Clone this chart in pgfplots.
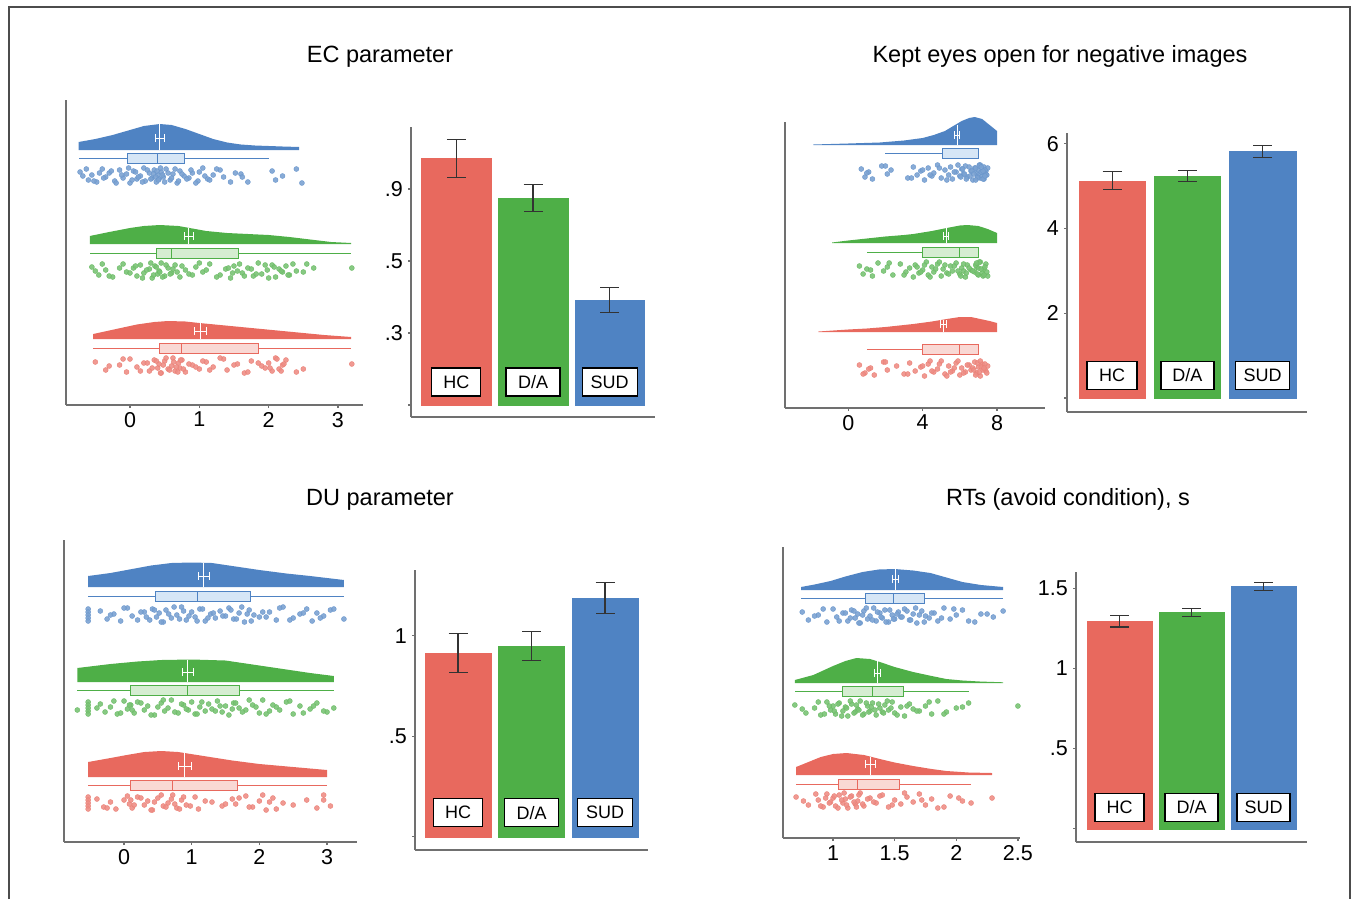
\documentclass[border=0pt]{standalone}
\usepackage{fontspec}
\setmainfont{Liberation Sans}
\usepackage{pgfplots}
\pgfplotsset{compat=1.18}
\usepgfplotslibrary{statistics}
\definecolor{cr}{HTML}{E8695E}
\definecolor{cg}{HTML}{4EAF47}
\definecolor{cb}{HTML}{4F83C3}
\definecolor{crL}{HTML}{F9D8D4}
\definecolor{cgL}{HTML}{D5EDD1}
\definecolor{cbL}{HTML}{D6E6F6}
\definecolor{axg}{HTML}{707070}
\tikzset{lab/.style={draw=black, line width=1.4pt, fill=white, minimum height=28pt, inner sep=0pt,
   font=\fontsize{18}{18}\selectfont}}
\pgfplotsset{
 common/.style={scale only axis, axis x line*=bottom, axis y line*=left,
   axis line style={-, draw=axg, line width=1.4pt},
   x axis line style={-}, y axis line style={-},
   tick align=outside, tick style={draw=axg, line width=1.2pt},
   ticklabel style={font=\fontsize{21.5}{24}\selectfont},
   /pgf/number format/assume math mode=true, clip=false},
 rain/.style={common, ytick=\empty, major tick length=3pt,
   xticklabel style={inner sep=0pt, yshift=-4pt}},
 barax/.style={common, xtick=\empty, major tick length=3pt,
   yticklabel style={inner sep=0pt, xshift=-5pt}},
 dens/.style={draw=none, fill=#1},
 mline/.style={white, line width=1pt},
 merr/.style={white, line width=0.9pt, mark=none, error bars/.cd, x dir=both, x explicit,
   error bar style={white, line width=0.9pt},
   error mark options={white, line width=0.9pt, mark size=4pt, rotate=90}},
 bx/.style={draw=#1, fill=#1L, line width=0.9pt},
 pts/.style={only marks, mark=*, mark size=2.5pt,
   mark options={draw=#1!85!white, fill=#1!75!white, line width=0.4pt, fill opacity=0.9}},
 barst/.style={ybar, bar width=#1, bar shift=0pt},
 bc/.style={fill=#1, draw=#1, line width=0.4pt, error bars/.cd, y dir=both, y explicit,
   error bar style={black!80, line width=1.1pt},
   error mark options={black!80, line width=1.1pt, mark size=9.5pt, rotate=90}},
}
\newcommand{\tfont}{\fontsize{23.5}{28}\selectfont}
\begin{document}
\begin{tikzpicture}
\useasboundingbox (0pt,0pt) rectangle (1356pt,-899pt);
\draw[black!70, line width=1.5pt] (9pt,-899pt) -- (9pt,-7pt) -- (1350pt,-7pt) -- (1350pt,-899pt);
\node[font=\tfont, anchor=base] at (380pt,-63pt) {EC parameter};
\node[font=\tfont, anchor=base] at (1060pt,-63pt) {Kept eyes open for negative images};
\node[font=\tfont, anchor=base] at (380pt,-505pt) {DU parameter};
\node[font=\tfont, anchor=base] at (1068pt,-505pt) {RTs (avoid condition), s};

% ================= R1 =================
\begin{axis}[rain, at={(66pt,-405pt)}, anchor=south west, width=297pt, height=305pt,
  xmin=-0.923, xmax=3.361, ymin=-405, ymax=-100, xtick={0,1,2,3}]
\addplot[dens=cb] coordinates {(-0.74,-150) (-0.74,-142) (-0.5,-139) (-0.25,-135) (0,-130) (0.2,-126) (0.43,-124) (0.6,-125) (0.8,-129) (1.0,-134) (1.2,-139) (1.4,-142.5) (1.6,-144.5) (1.8,-145.5) (2.0,-146) (2.2,-146.5) (2.44,-147) (2.44,-150)};
\addplot[mline] coordinates {(0.43,-150) (0.43,-124)};
\addplot[merr] coordinates {(0.43,-138) +- (0.06,0)};
\addplot[bx=cb, boxplot prepared={lower whisker=-0.74, lower quartile=-0.03, median=0.39, upper quartile=0.78, upper whisker=2.0, draw position=-158, box extend=10, whisker extend=0, draw direction=x}] coordinates {};
\addplot[pts=cb] coordinates {(-0.72,-172) (-0.6,-180) (-0.55,-175) (-0.48,-182) (-0.4,-169) (-0.35,-177) (-0.3,-173) (-0.22,-181) (-0.15,-170) (-0.1,-178) (-0.05,-174) (0.0,-183) (0.05,-171) (0.1,-179) (0.15,-176) (0.2,-168) (0.22,-181) (0.28,-173) (0.32,-178) (0.35,-170) (0.38,-182) (0.4,-175) (0.42,-179) (0.45,-172) (0.48,-177) (0.52,-169) (0.58,-180) (0.62,-174) (0.68,-183) (0.72,-171) (0.78,-176) (0.85,-178) (0.9,-173) (0.98,-181) (1.05,-168) (1.12,-179) (1.2,-175) (1.3,-170) (1.45,-182) (1.6,-174) (1.62,-177) (2.05,-171) (2.1,-180) (2.2,-176) (2.4,-169) (2.48,-183)};
\addplot[pts=cb] coordinates {(-0.68,-176) (-0.63,-169) (-0.52,-181) (-0.44,-173) (-0.38,-178) (-0.27,-171) (-0.2,-183) (-0.12,-175) (-0.02,-168) (0.03,-180) (0.08,-172) (0.12,-177) (0.18,-182) (0.25,-170) (0.3,-179) (0.34,-174) (0.37,-177) (0.39,-171) (0.41,-180) (0.44,-168) (0.47,-175) (0.5,-182) (0.55,-173) (0.6,-178) (0.65,-169) (0.7,-181) (0.75,-174) (0.82,-179) (0.88,-170) (0.95,-183) (1.0,-172) (1.08,-176) (1.15,-180) (1.25,-169) (1.35,-177) (1.52,-173) (1.7,-182)};
\addplot[dens=cg] coordinates {(-0.58,-244) (-0.58,-236) (-0.3,-232) (0,-228) (0.2,-226) (0.43,-225) (0.7,-226) (0.9,-228.5) (1.1,-231) (1.4,-233) (1.7,-234) (2.0,-235) (2.3,-237) (2.6,-239.5) (2.9,-242) (3.19,-243) (3.19,-244)};
\addplot[mline] coordinates {(0.85,-244) (0.85,-228)};
\addplot[merr] coordinates {(0.85,-236) +- (0.07,0)};
\addplot[bx=cg, boxplot prepared={lower whisker=-0.58, lower quartile=0.38, median=0.6, upper quartile=1.56, upper whisker=3.19, draw position=-253, box extend=10, whisker extend=0, draw direction=x}] coordinates {};
\addplot[pts=cg] coordinates {(-0.55,-267) (-0.45,-275) (-0.35,-270) (-0.25,-277) (-0.1,-264) (-0.05,-272) (0.05,-268) (0.1,-276) (0.15,-265) (0.2,-273) (0.28,-269) (0.32,-278) (0.36,-266) (0.4,-274) (0.42,-271) (0.45,-263) (0.5,-276) (0.55,-268) (0.6,-273) (0.65,-265) (0.72,-277) (0.8,-270) (0.85,-274) (0.95,-267) (1.05,-272) (1.15,-264) (1.3,-275) (1.38,-269) (1.45,-278) (1.5,-266) (1.55,-271) (1.62,-273) (1.7,-268) (1.78,-276) (1.85,-263) (1.9,-274) (1.98,-270) (2.05,-265) (2.1,-277) (2.15,-269) (2.2,-272) (2.25,-266) (2.3,-275) (2.4,-271) (2.55,-264) (3.2,-268)};
\addplot[pts=cg] coordinates {(-0.5,-271) (-0.4,-264) (-0.3,-276) (-0.15,-268) (0.0,-273) (0.08,-266) (0.18,-278) (0.24,-270) (0.3,-263) (0.34,-275) (0.38,-267) (0.43,-272) (0.47,-277) (0.52,-265) (0.58,-274) (0.62,-269) (0.68,-272) (0.75,-266) (0.9,-275) (1.0,-263) (1.1,-270) (1.25,-277) (1.42,-268) (1.48,-273) (1.58,-264) (1.65,-276) (1.75,-269) (1.82,-274) (1.95,-265) (2.0,-278) (2.08,-267) (2.18,-271) (2.28,-275) (2.35,-264) (2.5,-272) (2.65,-268)};
\addplot[dens=cr] coordinates {(-0.53,-339) (-0.53,-334) (-0.2,-329) (0.1,-324.5) (0.35,-322) (0.55,-321) (0.8,-321.5) (1.0,-323) (1.3,-325) (1.6,-327) (1.9,-329) (2.2,-331) (2.5,-333) (2.8,-335) (3.19,-337) (3.19,-339)};
\addplot[mline] coordinates {(1.02,-339) (1.02,-323)};
\addplot[merr] coordinates {(1.02,-331) +- (0.087,0)};
\addplot[bx=cr, boxplot prepared={lower whisker=-0.53, lower quartile=0.42, median=0.74, upper quartile=1.86, upper whisker=3.19, draw position=-348, box extend=10, whisker extend=0, draw direction=x}] coordinates {};
\addplot[pts=cr] coordinates {(-0.5,-362) (-0.35,-370) (-0.15,-365) (-0.05,-372) (0.0,-359) (0.1,-367) (0.2,-363) (0.28,-371) (0.35,-360) (0.4,-368) (0.42,-364) (0.45,-373) (0.5,-361) (0.55,-369) (0.6,-366) (0.62,-358) (0.65,-371) (0.7,-363) (0.72,-368) (0.75,-360) (0.8,-372) (0.9,-365) (1.0,-369) (1.1,-362) (1.2,-367) (1.35,-359) (1.4,-370) (1.55,-364) (1.65,-373) (1.75,-361) (1.9,-366) (1.95,-368) (2.0,-363) (2.05,-371) (2.1,-358) (2.15,-369) (2.2,-365) (2.25,-360) (2.4,-372) (3.2,-364)};
\addplot[pts=cr] coordinates {(-0.3,-366) (-0.1,-359) (0.15,-371) (0.25,-363) (0.32,-368) (0.38,-361) (0.44,-373) (0.48,-365) (0.52,-358) (0.57,-370) (0.63,-362) (0.67,-367) (0.69,-372) (0.73,-360) (0.77,-369) (0.85,-364) (0.95,-367) (1.05,-361) (1.15,-370) (1.3,-358) (1.5,-365) (1.7,-372) (1.85,-363) (2.02,-368) (2.12,-359) (2.18,-371) (2.22,-364) (2.5,-369)};
\end{axis}

% ================= B1 =================
\begin{axis}[barax, at={(411pt,-417pt)}, anchor=south west, width=244pt, height=290pt,
  xmin=-0.59, xmax=2.59, ymin=-0.167, ymax=3.86, ytick={0,1,2,3},
  yticklabels={{},{\textnormal{.3}},{\textnormal{.5}},{\textnormal{.9}}}]
\addplot[barst=0.91, bc=cr] coordinates {(0,3.42) +- (0,0.265)};
\addplot[barst=0.91, bc=cg] coordinates {(1,2.875) +- (0,0.185)};
\addplot[barst=0.91, bc=cb] coordinates {(2,1.46) +- (0,0.17)};
\node[lab, minimum width=49pt] at (axis cs:0,0.32) {HC};
\node[lab, minimum width=54pt] at (axis cs:1,0.32) {D/A};
\node[lab, minimum width=55pt] at (axis cs:2,0.32) {SUD};
\end{axis}

% ================= R2 =================
\begin{axis}[rain, at={(785pt,-408pt)}, anchor=south west, width=260pt, height=286pt,
  xmin=-3.40, xmax=10.58, ymin=-408, ymax=-122, xtick={0,4,8}]
\addplot[dens=cb] coordinates {(-1.88,-145) (-1.88,-144.5) (0,-143.5) (1.7,-142.5) (3,-140.5) (4,-138) (4.6,-135) (5.2,-131) (5.65,-126) (6.1,-121) (6.5,-118) (6.8,-117) (7.2,-119) (7.6,-125) (8.0,-131) (8.0,-145)};
\addplot[mline] coordinates {(5.86,-145) (5.86,-124.5)};
\addplot[merr] coordinates {(5.86,-135) +- (0.14,0)};
\addplot[bx=cb, boxplot prepared={lower whisker=2.0, lower quartile=5.05, median=7.0, upper quartile=7.0, upper whisker=7.0, draw position=-153, box extend=10, whisker extend=0, draw direction=x}] coordinates {};
\addplot[pts=cb] coordinates {(0.7,-169) (0.9,-177) (1.1,-172) (1.3,-179) (1.8,-166) (2.1,-174) (2.3,-170) (3.2,-178) (3.5,-167) (3.7,-175) (3.9,-171) (4.1,-180) (4.3,-168) (4.5,-176) (4.6,-173) (4.8,-165) (5.0,-178) (5.2,-170) (5.4,-175) (5.5,-167) (5.6,-179) (5.8,-172) (6.0,-176) (6.1,-169) (6.2,-174) (6.3,-166) (6.4,-177) (6.6,-171) (6.7,-180) (6.8,-168) (6.9,-173) (7.0,-175) (7.0,-170) (7.1,-178) (7.1,-165) (7.2,-176) (7.2,-172) (7.3,-167) (7.3,-179) (7.4,-171) (7.4,-174) (7.5,-168)};
\addplot[pts=cb] coordinates {(1.0,-173) (2.0,-166) (3.4,-178) (4.0,-170) (4.4,-175) (4.9,-168) (5.3,-180) (5.7,-172) (5.9,-165) (6.05,-177) (6.15,-169) (6.25,-174) (6.35,-179) (6.5,-167) (6.55,-176) (6.65,-171) (6.75,-174) (6.85,-168) (6.95,-177) (7.05,-165) (7.15,-172) (7.25,-179) (7.35,-170) (7.45,-175) (7.05,-166) (6.95,-178) (7.25,-171) (7.35,-176) (7.15,-167) (6.85,-180)};
\addplot[dens=cg] coordinates {(-0.87,-243) (-0.87,-242.5) (0,-240.5) (1,-238.5) (2,-236.5) (3,-235) (3.5,-234) (4.5,-231) (5.3,-228) (6.0,-225.5) (6.4,-225) (7.0,-226) (7.5,-229) (8.0,-233) (8.0,-243)};
\addplot[mline] coordinates {(5.27,-243) (5.27,-228.1)};
\addplot[merr] coordinates {(5.27,-236) +- (0.14,0)};
\addplot[bx=cg, boxplot prepared={lower whisker=1, lower quartile=4, median=6, upper quartile=7, upper whisker=7, draw position=-252, box extend=10, whisker extend=0, draw direction=x}] coordinates {};
\addplot[pts=cg] coordinates {(0.6,-266) (0.8,-274) (1.0,-269) (1.3,-276) (1.6,-263) (1.9,-271) (2.1,-267) (2.4,-275) (2.8,-264) (3.1,-272) (3.3,-268) (3.5,-277) (3.6,-265) (3.8,-273) (4.0,-270) (4.2,-262) (4.3,-275) (4.5,-267) (4.6,-272) (4.8,-264) (5.0,-276) (5.1,-269) (5.3,-273) (5.5,-266) (5.6,-271) (5.8,-263) (6.0,-274) (6.1,-268) (6.3,-277) (6.4,-265) (6.6,-270) (6.8,-272) (6.9,-267) (7.0,-275) (7.1,-262) (7.2,-273) (7.3,-269) (7.4,-264) (7.5,-276) (7.0,-268) (6.2,-271) (5.2,-265)};
\addplot[pts=cg] coordinates {(1.2,-270) (2.2,-263) (3.0,-275) (3.7,-267) (3.9,-272) (4.1,-265) (4.4,-277) (4.7,-269) (4.9,-262) (5.4,-274) (5.7,-266) (5.9,-271) (6.05,-276) (6.2,-264) (6.35,-273) (6.5,-268) (6.7,-271) (6.85,-265) (6.95,-274) (7.05,-262) (7.15,-269) (7.25,-276) (7.35,-267) (7.45,-272) (6.9,-263) (7.3,-275)};
\addplot[dens=cr] coordinates {(-1.6,-332) (-1.6,-331.5) (0,-329.5) (1,-328.5) (2,-327) (3.5,-324) (4.5,-321.5) (5.3,-319) (6.0,-317) (6.6,-317) (7.1,-319) (7.6,-321) (8.0,-323) (8.0,-332)};
\addplot[mline] coordinates {(5.1,-332) (5.1,-320.2)};
\addplot[merr] coordinates {(5.1,-324) +- (0.16,0)};
\addplot[bx=cr, boxplot prepared={lower whisker=1, lower quartile=4, median=6, upper quartile=7, upper whisker=7, draw position=-349, box extend=10, whisker extend=0, draw direction=x}] coordinates {};
\addplot[pts=cr] coordinates {(0.6,-365) (0.9,-373) (1.2,-368) (1.4,-375) (1.9,-362) (2.1,-370) (2.6,-366) (3.0,-374) (3.3,-363) (3.6,-371) (3.9,-367) (4.1,-376) (4.3,-364) (4.6,-372) (4.8,-369) (5.0,-361) (5.2,-374) (5.4,-366) (5.6,-371) (5.8,-363) (6.0,-375) (6.1,-368) (6.3,-372) (6.5,-365) (6.6,-370) (6.8,-362) (6.9,-373) (7.0,-367) (7.1,-376) (7.2,-364) (7.3,-369) (7.4,-371) (7.5,-366) (0.8,-374) (4.4,-361) (5.5,-372) (6.7,-368)};
\addplot[pts=cr] coordinates {(1.1,-369) (2.0,-362) (3.2,-374) (4.0,-366) (4.5,-371) (4.9,-364) (5.3,-376) (5.7,-368) (5.9,-361) (6.2,-373) (6.4,-365) (6.75,-370) (6.85,-375) (6.95,-363) (7.05,-372) (7.15,-367) (7.25,-370) (7.35,-364) (7.45,-373) (7.1,-361) (7.3,-368)};
\end{axis}

% ================= B2 =================
\begin{axis}[barax, at={(1067pt,-412pt)}, anchor=south west, width=240pt, height=279pt,
  xmin=-0.6, xmax=2.59, ymin=-0.33, ymax=6.25, ytick={0,2,4,6},
  yticklabels={{},{\textnormal{2}},{\textnormal{4}},{\textnormal{6}}}]
\addplot[barst=0.88, bc=cr] coordinates {(0,5.125) +- (0,0.21)};
\addplot[barst=0.88, bc=cg] coordinates {(1,5.24) +- (0,0.135)};
\addplot[barst=0.88, bc=cb] coordinates {(2,5.81) +- (0,0.135)};
\node[lab, minimum width=50pt] at (axis cs:0,0.53) {HC};
\node[lab, minimum width=53pt] at (axis cs:1,0.53) {D/A};
\node[lab, minimum width=54pt] at (axis cs:2,0.53) {SUD};
\end{axis}

% ================= R3 =================
\begin{axis}[rain, at={(64pt,-842pt)}, anchor=south west, width=293pt, height=302pt,
  xmin=-0.887, xmax=3.443, ymin=-842, ymax=-540, xtick={0,1,2,3}]
\addplot[dens=cb] coordinates {(-0.53,-587) (-0.53,-576) (-0.2,-573) (0.04,-570) (0.4,-565.5) (0.7,-563) (1.0,-562.5) (1.3,-563) (1.6,-566) (2.0,-570) (2.4,-573.5) (2.75,-576) (3.0,-578) (3.25,-580) (3.25,-587)};
\addplot[mline] coordinates {(1.18,-587) (1.18,-562.8)};
\addplot[merr] coordinates {(1.18,-576) +- (0.086,0)};
\addplot[bx=cb, boxplot prepared={lower whisker=-0.53, lower quartile=0.47, median=1.08, upper quartile=1.87, upper whisker=3.25, draw position=-596, box extend=10, whisker extend=0, draw direction=x}] coordinates {};
\addplot[pts=cb] coordinates {(-0.53,-609) (-0.53,-612) (-0.53,-615) (-0.53,-618) (-0.53,-621) (-0.35,-611) (-0.25,-619) (-0.15,-614) (-0.05,-621) (0.05,-608) (0.12,-616) (0.3,-612) (0.38,-620) (0.42,-609) (0.48,-617) (0.52,-613) (0.58,-622) (0.62,-610) (0.7,-618) (0.78,-615) (0.85,-607) (0.92,-620) (1.0,-612) (1.05,-617) (1.12,-609) (1.2,-621) (1.28,-614) (1.35,-618) (1.42,-611) (1.5,-616) (1.55,-608) (1.62,-619) (1.7,-613) (1.78,-622) (1.85,-610) (1.92,-615) (2.0,-617) (2.15,-612) (2.25,-620) (2.35,-607) (2.5,-618) (2.6,-614) (2.7,-609) (2.78,-621) (2.85,-613) (2.95,-616) (3.05,-610) (3.25,-619)};
\addplot[pts=cb] coordinates {(-0.2,-615) (0.0,-608) (0.2,-620) (0.25,-612) (0.33,-617) (0.45,-610) (0.55,-622) (0.66,-614) (0.74,-607) (0.82,-619) (0.88,-611) (0.96,-616) (1.08,-621) (1.16,-609) (1.24,-618) (1.32,-613) (1.46,-616) (1.58,-610) (1.66,-619) (1.74,-607) (1.82,-614) (1.88,-621) (2.05,-612) (2.1,-617) (2.3,-608) (2.45,-620) (2.65,-613) (2.9,-618) (3.1,-609)};
\addplot[dens=cg] coordinates {(-0.69,-682) (-0.69,-668) (-0.2,-664) (0.2,-661.5) (0.55,-660) (1.0,-659.5) (1.5,-660.5) (2.0,-665.5) (2.4,-669.5) (2.75,-673) (3.1,-676) (3.1,-682)};
\addplot[mline] coordinates {(0.94,-682) (0.94,-659.6)};
\addplot[merr] coordinates {(0.94,-672) +- (0.08,0)};
\addplot[bx=cg, boxplot prepared={lower whisker=-0.69, lower quartile=0.09, median=0.93, upper quartile=1.71, upper whisker=3.1, draw position=-690, box extend=10, whisker extend=0, draw direction=x}] coordinates {};
\addplot[pts=cg] coordinates {(-0.69,-710) (-0.53,-702) (-0.53,-705) (-0.53,-708) (-0.53,-711) (-0.53,-714) (-0.35,-704) (-0.28,-712) (-0.2,-707) (-0.1,-714) (0.0,-701) (0.05,-709) (0.1,-705) (0.15,-713) (0.2,-702) (0.3,-710) (0.35,-706) (0.45,-715) (0.55,-703) (0.6,-711) (0.65,-708) (0.7,-700) (0.8,-713) (0.88,-705) (0.95,-710) (1.0,-702) (1.05,-714) (1.12,-707) (1.2,-711) (1.25,-704) (1.3,-709) (1.38,-701) (1.45,-712) (1.5,-706) (1.55,-715) (1.62,-703) (1.7,-708) (1.8,-710) (1.9,-705) (2.0,-713) (2.05,-700) (2.15,-711) (2.25,-707) (2.4,-702) (2.5,-714) (2.6,-706) (2.75,-709) (2.85,-703) (3.0,-712) (3.1,-708)};
\addplot[pts=cg] coordinates {(-0.4,-708) (-0.15,-701) (-0.05,-713) (0.08,-705) (0.12,-710) (0.25,-703) (0.4,-715) (0.5,-707) (0.58,-700) (0.75,-712) (0.85,-704) (0.92,-709) (1.08,-714) (1.15,-702) (1.35,-711) (1.42,-706) (1.6,-709) (1.65,-703) (1.75,-712) (1.85,-700) (1.95,-707) (2.1,-714) (2.2,-705) (2.3,-710) (2.45,-701) (2.65,-713) (2.8,-706) (2.95,-711)};
\addplot[dens=cr] coordinates {(-0.53,-777) (-0.53,-762) (-0.2,-758) (0.04,-755) (0.3,-752) (0.55,-751) (0.8,-752) (1.27,-757) (1.6,-760.5) (2.0,-764) (2.5,-767) (3.0,-770) (3.0,-777)};
\addplot[mline] coordinates {(0.9,-777) (0.9,-752.5)};
\addplot[merr] coordinates {(0.9,-766) +- (0.1,0)};
\addplot[bx=cr, boxplot prepared={lower whisker=-0.53, lower quartile=0.09, median=0.72, upper quartile=1.67, upper whisker=3.0, draw position=-785, box extend=10, whisker extend=0, draw direction=x}] coordinates {};
\addplot[pts=cr] coordinates {(-0.53,-797) (-0.53,-800) (-0.53,-803) (-0.53,-806) (-0.53,-809) (-0.4,-799) (-0.3,-807) (-0.2,-802) (-0.12,-809) (0.05,-796) (0.08,-804) (0.1,-800) (0.12,-808) (0.2,-797) (0.3,-805) (0.35,-801) (0.42,-810) (0.5,-798) (0.58,-806) (0.65,-803) (0.72,-795) (0.78,-808) (0.85,-800) (0.92,-805) (1.05,-797) (1.1,-809) (1.3,-802) (1.45,-806) (1.6,-799) (1.65,-804) (1.8,-796) (1.9,-807) (2.0,-801) (2.1,-810) (2.2,-798) (2.35,-803) (2.5,-805) (2.7,-800) (2.85,-808) (2.95,-795) (3.05,-806)};
\addplot[pts=cr] coordinates {(-0.25,-808) (0.0,-800) (0.15,-805) (0.25,-798) (0.4,-810) (0.45,-802) (0.55,-795) (0.62,-807) (0.7,-799) (0.75,-804) (0.82,-809) (0.88,-797) (0.98,-806) (1.2,-801) (1.5,-804) (1.7,-798) (1.85,-807) (2.05,-795) (2.15,-802) (2.25,-809) (2.95,-800)};
\end{axis}

% ================= B3 =================
\begin{axis}[barax, at={(415pt,-850pt)}, anchor=south west, width=233pt, height=280pt,
  xmin=-0.585, xmax=2.585, ymin=-0.066, ymax=1.327, ytick={0,0.5,1},
  yticklabels={{},{\textnormal{.5}},{\textnormal{1}}}]
\addplot[barst=0.9, bc=cr] coordinates {(0,0.914) +- (0,0.098)};
\addplot[barst=0.9, bc=cg] coordinates {(1,0.95) +- (0,0.071)};
\addplot[barst=0.9, bc=cb] coordinates {(2,1.189) +- (0,0.077)};
\node[lab, minimum width=49pt] at (axis cs:0,0.12) {HC};
\node[lab, minimum width=54pt] at (axis cs:1,0.12) {D/A};
\node[lab, minimum width=55pt] at (axis cs:2,0.12) {SUD};
\end{axis}

% ================= R4 =================
\begin{axis}[rain, at={(783pt,-838pt)}, anchor=south west, width=237pt, height=291pt,
  xmin=0.594, xmax=2.517, ymin=-838, ymax=-547, xtick={1,1.5,2,2.5}]
\addplot[dens=cb] coordinates {(0.74,-590) (0.74,-587) (0.85,-584.5) (0.98,-581) (1.1,-576.5) (1.24,-572) (1.37,-569.5) (1.5,-569) (1.65,-570.5) (1.79,-573) (1.92,-577.5) (2.05,-582) (2.2,-585) (2.38,-587) (2.38,-590)};
\addplot[mline] coordinates {(1.51,-590) (1.51,-569)};
\addplot[merr] coordinates {(1.51,-579) +- (0.024,0)};
\addplot[bx=cb, boxplot prepared={lower whisker=0.74, lower quartile=1.26, median=1.49, upper quartile=1.74, upper whisker=2.38, draw position=-598, box extend=10, whisker extend=0, draw direction=x}] coordinates {};
\addplot[pts=cb] coordinates {(0.75,-612) (0.8,-620) (0.88,-615) (0.95,-622) (1.0,-609) (1.03,-617) (1.08,-613) (1.12,-621) (1.15,-610) (1.18,-618) (1.2,-614) (1.22,-623) (1.25,-611) (1.28,-619) (1.3,-616) (1.33,-608) (1.35,-621) (1.38,-613) (1.4,-618) (1.42,-610) (1.45,-622) (1.48,-615) (1.5,-619) (1.53,-612) (1.55,-617) (1.58,-609) (1.62,-620) (1.65,-614) (1.68,-623) (1.72,-611) (1.75,-616) (1.78,-618) (1.82,-613) (1.85,-621) (1.9,-608) (1.95,-619) (2.0,-615) (2.05,-610) (2.15,-622) (2.2,-614) (2.3,-617) (2.38,-611)};
\addplot[pts=cb] coordinates {(0.85,-616) (0.92,-609) (1.05,-621) (1.1,-613) (1.14,-618) (1.17,-611) (1.21,-623) (1.24,-615) (1.27,-608) (1.32,-620) (1.36,-612) (1.39,-617) (1.43,-622) (1.46,-610) (1.49,-619) (1.52,-614) (1.56,-617) (1.6,-611) (1.63,-620) (1.67,-608) (1.7,-615) (1.74,-622) (1.8,-613) (1.88,-618) (1.98,-609) (2.1,-621) (2.25,-614)};
\addplot[dens=cg] coordinates {(0.69,-683) (0.69,-680) (0.84,-675) (1.0,-666) (1.1,-661) (1.19,-658) (1.3,-659) (1.38,-662) (1.5,-667) (1.65,-672) (1.8,-676) (1.92,-679) (2.05,-680.5) (2.19,-681.5) (2.38,-682.3) (2.38,-683)};
\addplot[mline] coordinates {(1.36,-683) (1.36,-660.5)};
\addplot[merr] coordinates {(1.36,-673) +- (0.025,0)};
\addplot[bx=cg, boxplot prepared={lower whisker=0.69, lower quartile=1.08, median=1.32, upper quartile=1.57, upper whisker=2.1, draw position=-691, box extend=10, whisker extend=0, draw direction=x}] coordinates {};
\addplot[pts=cg] coordinates {(0.69,-705) (0.78,-713) (0.85,-708) (0.9,-715) (0.95,-702) (0.98,-710) (1.0,-706) (1.02,-714) (1.05,-703) (1.08,-711) (1.1,-707) (1.12,-716) (1.15,-704) (1.18,-712) (1.2,-709) (1.22,-701) (1.25,-714) (1.28,-706) (1.3,-711) (1.32,-703) (1.35,-715) (1.38,-708) (1.4,-712) (1.42,-705) (1.45,-710) (1.48,-702) (1.5,-713) (1.55,-707) (1.58,-716) (1.62,-704) (1.65,-709) (1.7,-711) (1.75,-706) (1.8,-714) (1.85,-701) (1.92,-712) (2.0,-708) (2.1,-703) (2.5,-706)};
\addplot[pts=cg] coordinates {(0.75,-709) (0.88,-702) (0.93,-714) (0.97,-706) (1.01,-711) (1.04,-704) (1.07,-716) (1.11,-708) (1.14,-701) (1.17,-713) (1.19,-705) (1.21,-710) (1.24,-715) (1.27,-703) (1.29,-712) (1.31,-707) (1.34,-710) (1.37,-704) (1.41,-713) (1.44,-701) (1.47,-708) (1.52,-715) (1.6,-706) (1.68,-711) (1.78,-702) (1.9,-714) (2.05,-707)};
\addplot[dens=cr] coordinates {(0.70,-775) (0.70,-767) (0.8,-762) (0.9,-757) (1.0,-754) (1.11,-753) (1.25,-755) (1.38,-759) (1.5,-762.5) (1.65,-766) (1.8,-769) (1.92,-771) (2.1,-772.5) (2.29,-773) (2.29,-775)};
\addplot[mline] coordinates {(1.30,-775) (1.30,-756.5)};
\addplot[merr] coordinates {(1.30,-764) +- (0.04,0)};
\addplot[bx=cr, boxplot prepared={lower whisker=0.70, lower quartile=1.04, median=1.2, upper quartile=1.54, upper whisker=2.12, draw position=-784, box extend=10, whisker extend=0, draw direction=x}] coordinates {};
\addplot[pts=cr] coordinates {(0.7,-797) (0.8,-805) (0.88,-800) (0.92,-807) (0.95,-794) (0.98,-802) (1.0,-798) (1.02,-806) (1.05,-795) (1.08,-803) (1.1,-799) (1.12,-808) (1.15,-796) (1.18,-804) (1.2,-801) (1.22,-793) (1.25,-806) (1.3,-798) (1.35,-803) (1.4,-795) (1.45,-807) (1.5,-800) (1.55,-804) (1.6,-797) (1.65,-802) (1.7,-794) (1.75,-805) (1.8,-799) (1.85,-808) (1.95,-796) (2.05,-801) (2.12,-803) (2.29,-798)};
\addplot[pts=cr] coordinates {(0.76,-801) (0.86,-794) (0.9,-806) (0.94,-798) (0.97,-803) (1.01,-796) (1.04,-808) (1.07,-800) (1.09,-793) (1.11,-805) (1.14,-797) (1.17,-802) (1.19,-807) (1.21,-795) (1.24,-804) (1.28,-799) (1.33,-802) (1.38,-796) (1.48,-805) (1.58,-793) (1.72,-800) (1.9,-807) (2.02,-798)};
\end{axis}

% ================= B4 =================
\begin{axis}[barax, at={(1076pt,-842pt)}, anchor=south west, width=231pt, height=270pt,
  xmin=-0.604, xmax=2.604, ymin=-0.083, ymax=1.602, ytick={0,0.5,1,1.5},
  yticklabels={{},{\textnormal{.5}},{\textnormal{1}},{\textnormal{1.5}}}]
\addplot[barst=0.9, bc=cr] coordinates {(0,1.296) +- (0,0.037)};
\addplot[barst=0.9, bc=cg] coordinates {(1,1.351) +- (0,0.025)};
\addplot[barst=0.9, bc=cb] coordinates {(2,1.513) +- (0,0.026)};
\node[lab, minimum width=49pt] at (axis cs:0,0.132) {HC};
\node[lab, minimum width=53pt] at (axis cs:1,0.132) {D/A};
\node[lab, minimum width=53pt] at (axis cs:2,0.132) {SUD};
\end{axis}
\end{tikzpicture}
\end{document}
